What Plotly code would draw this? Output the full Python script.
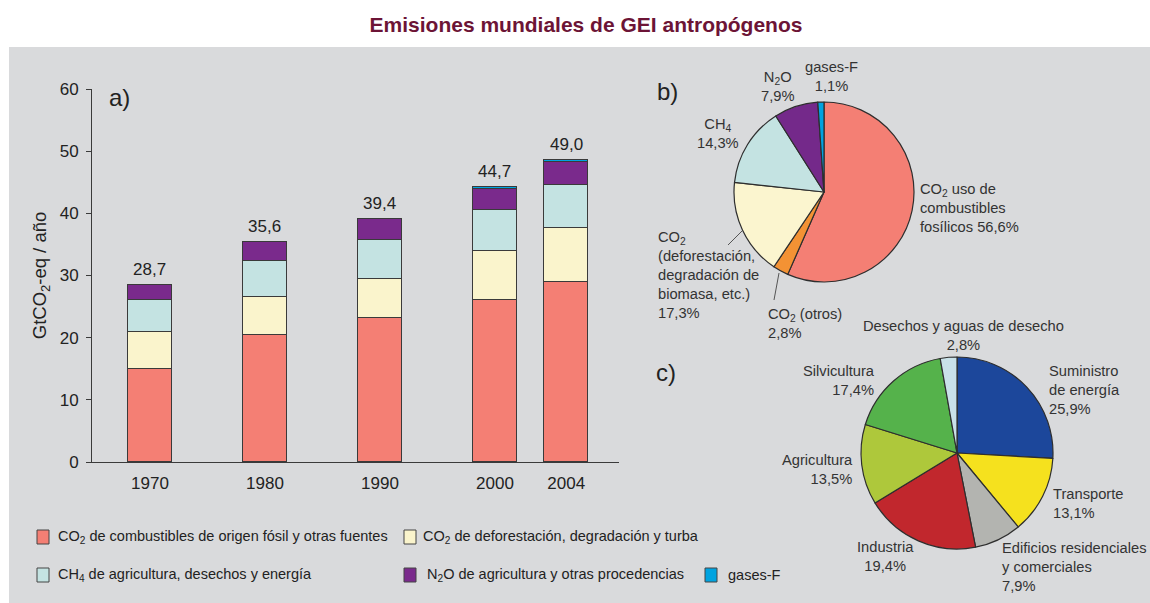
import plotly.graph_objects as go

W, H = 1150, 603

# ---------------- data ----------------
years = ["1970", "1980", "1990", "2000", "2004"]
co2_fossil = [15.0, 20.4, 23.2, 26.0, 28.9]
co2_defor = [5.9, 6.2, 6.3, 7.9, 8.8]
ch4 = [5.1, 5.7, 6.2, 6.6, 6.8]
n2o = [2.4, 3.1, 3.4, 3.4, 3.7]
fgases = [0.0, 0.0, 0.0, 0.4, 0.3]
total_labels = ["28,7", "35,6", "39,4", "44,7", "49,0"]

series_names = [
    "CO<sub>2</sub> de combustibles de origen fósil y otras fuentes",
    "CO<sub>2</sub> de deforestación, degradación y turba",
    "CH<sub>4</sub> de agricultura, desechos y energía",
    "N<sub>2</sub>O de agricultura y otras procedencias",
    "gases-F",
]

gas_labels = ["CO2 uso de combustibles fosílicos", "CO2 (otros)",
              "CO2 (deforestación, degradación de biomasa, etc.)",
              "CH4", "N2O", "gases-F"]
gas_share = [56.6, 2.8, 17.3, 14.3, 7.9, 1.1]

sector_labels = ["Suministro de energía", "Transporte",
                 "Edificios residenciales y comerciales", "Industria",
                 "Agricultura", "Silvicultura", "Desechos y aguas de desecho"]
sector_share = [25.9, 13.1, 7.9, 19.4, 13.5, 17.4, 2.8]

# ---------------- layout helpers (positions / styles) ----------------
bar_pos = [0, 1, 2, 3, 3.62]
bar_w = 0.383
bar_colors = ["#F47F74", "#FAF4CC", "#C4E3E2", "#7A2A8C", "#00A3E0"]
gas_colors = ["#F47F74", "#F39234", "#FBF5CF", "#C4E3E2", "#74298A", "#00A3E0"]
sector_colors = ["#1C479B", "#F5E11E", "#B3B4B0", "#C1272D", "#AEC83B", "#55B24B", "#C9E1E9"]
BG = "#D9DADC"
TXT = "#333333"
EDGE = "#3A3A3A"
FONT = "Liberation Sans, Arial, sans-serif"


def px(x):
    return x / W


def py(y):
    return 1 - y / H


fig = go.Figure()

series = [co2_fossil, co2_defor, ch4, n2o, fgases]
for name, vals, col in zip(series_names, series, bar_colors):
    fig.add_trace(go.Bar(
        x=bar_pos, y=vals, name=name, width=bar_w,
        marker=dict(color=col, line=dict(color=EDGE, width=1)),
        showlegend=False, hoverinfo="skip",
    ))

# pie b
fig.add_trace(go.Pie(
    labels=gas_labels, values=gas_share, sort=False, direction="clockwise",
    rotation=0, textinfo="none", hoverinfo="label+value",
    marker=dict(colors=gas_colors, line=dict(color="#2E2E2E", width=1.2)),
    domain=dict(x=[px(824 - 90), px(824 + 90)], y=[py(192 + 90), py(192 - 90)]),
    showlegend=False,
))
# pie c
fig.add_trace(go.Pie(
    labels=sector_labels, values=sector_share, sort=False, direction="clockwise",
    rotation=0, textinfo="none", hoverinfo="label+value",
    marker=dict(colors=sector_colors, line=dict(color="#2E2E2E", width=1.2)),
    domain=dict(x=[px(957 - 96), px(957 + 96)], y=[py(453 + 96), py(453 - 96)]),
    showlegend=False,
))

shapes = [
    dict(type="rect", xref="paper", yref="paper", x0=px(9), x1=px(1150), y0=0, y1=py(47),
         fillcolor=BG, line=dict(width=0), layer="below"),
    # leader lines pie b
    dict(type="line", xref="paper", yref="paper", x0=px(728), y0=py(245), x1=px(742), y1=py(231),
         line=dict(color="#555", width=1)),
    dict(type="line", xref="paper", yref="paper", x0=px(774), y0=py(300), x1=px(779), y1=py(273),
         line=dict(color="#555", width=1)),
]

annotations = []
# totals above bars
for xp, t, a, b, c, d, e in zip(bar_pos, total_labels, co2_fossil, co2_defor, ch4, n2o, fgases):
    annotations.append(dict(x=xp, y=a + b + c + d + e, xref="x", yref="y", text=t,
                            showarrow=False, yanchor="bottom", yshift=4,
                            font=dict(family=FONT, size=17, color="#222")))

# panel letters
for txt, x, y in [("a)", 107, 97), ("b)", 655, 92), ("c)", 654, 372)]:
    annotations.append(dict(x=px(x), y=py(y), xref="paper", yref="paper", text=txt,
                            showarrow=False, xanchor="left", yanchor="middle",
                            font=dict(family=FONT, size=24, color="#222")))

# legend (manual)
leg_items = [
    (37, 537, 56), (404, 537, 421),
    (37, 575, 56), (404, 575, 425), (705, 575, 726),
]
for idx, (bx, by, tx) in enumerate(leg_items):
    shapes.append(dict(type="rect", xref="paper", yref="paper",
                       x0=px(bx), x1=px(bx + 12), y0=py(by + 7), y1=py(by - 7),
                       fillcolor=bar_colors[idx], line=dict(color="#444", width=1)))
    annotations.append(dict(x=px(tx), y=py(by), xref="paper", yref="paper",
                            text=series_names[idx], showarrow=False,
                            xanchor="left", yanchor="middle",
                            font=dict(family=FONT, size=14.5, color="#222")))

# pie b labels
pie_b_text = [
    ("N<sub>2</sub>O<br>7,9%", 777, 86, "center"),
    ("gases-F<br>1,1%", 831, 77, "center"),
    ("CH<sub>4</sub><br>14,3%", 718, 133, "center"),
    ("CO<sub>2</sub> uso de<br>combustibles<br>fosílicos 56,6%", 918, 208, "left"),
    ("CO<sub>2</sub><br>(deforestación,<br>degradación de<br>biomasa, etc.)<br>17,3%", 656, 275, "left"),
    ("CO<sub>2</sub> (otros)<br>2,8%", 766, 323, "left"),
]
pie_c_text = [
    ("Desechos y aguas de desecho<br>2,8%", 963, 335, "center"),
    ("Suministro<br>de energía<br>25,9%", 1047, 390, "left"),
    ("Silvicultura<br>17,4%", 877, 380, "right"),
    ("Agricultura<br>13,5%", 855, 469, "right"),
    ("Transporte<br>13,1%", 1051, 503, "left"),
    ("Industria<br>19,4%", 885, 556, "center"),
    ("Edificios residenciales<br>y comerciales<br>7,9%", 1000, 567, "left"),
]
for txt, x, y, anc in pie_b_text + pie_c_text:
    annotations.append(dict(x=px(x), y=py(y), xref="paper", yref="paper", text=txt,
                            showarrow=False, xanchor=anc, yanchor="middle", align=anc,
                            font=dict(family=FONT, size=14.7, color=TXT)))

fig.update_layout(
    width=W, height=H, autosize=False,
    margin=dict(l=0, r=0, t=0, b=0, pad=0),
    paper_bgcolor="white", plot_bgcolor=BG,
    barmode="stack", bargap=0,
    title=dict(text="<b>Emisiones mundiales de GEI antropógenos</b>",
               x=586 / W, xanchor="center", y=py(25), yanchor="middle",
               font=dict(family=FONT, size=21, color="#6C1436")),
    xaxis=dict(domain=[px(92), px(618.6)], range=[-0.504, 4.075],
               tickvals=bar_pos, ticktext=years, ticks="", showgrid=False,
               zeroline=False, showline=True, linecolor=EDGE, linewidth=1,
               tickfont=dict(family=FONT, size=17, color="#222"),
               ticklabelstandoff=6, fixedrange=True, automargin=False),
    yaxis=dict(domain=[py(462), py(89)], range=[0, 60], dtick=10,
               ticks="outside", ticklen=5, tickcolor=EDGE, showgrid=False,
               zeroline=False, showline=True, linecolor=EDGE, linewidth=1,
               tickfont=dict(family=FONT, size=17, color="#222"),
               ticklabelstandoff=4, automargin=False,
               title=dict(text="GtCO<sub>2</sub>-eq / año", standoff=8,
                          font=dict(family=FONT, size=18.5, color="#222")),
               fixedrange=True),
    shapes=shapes,
    annotations=annotations,
)

post = ("document.documentElement.style.margin='0';"
        "document.body.style.margin='0';"
        "document.body.style.overflow='hidden';"
        "document.documentElement.style.overflow='hidden';")
fig.write_html("out.html", post_script=post,
               config={"responsive": False, "displayModeBar": False})
